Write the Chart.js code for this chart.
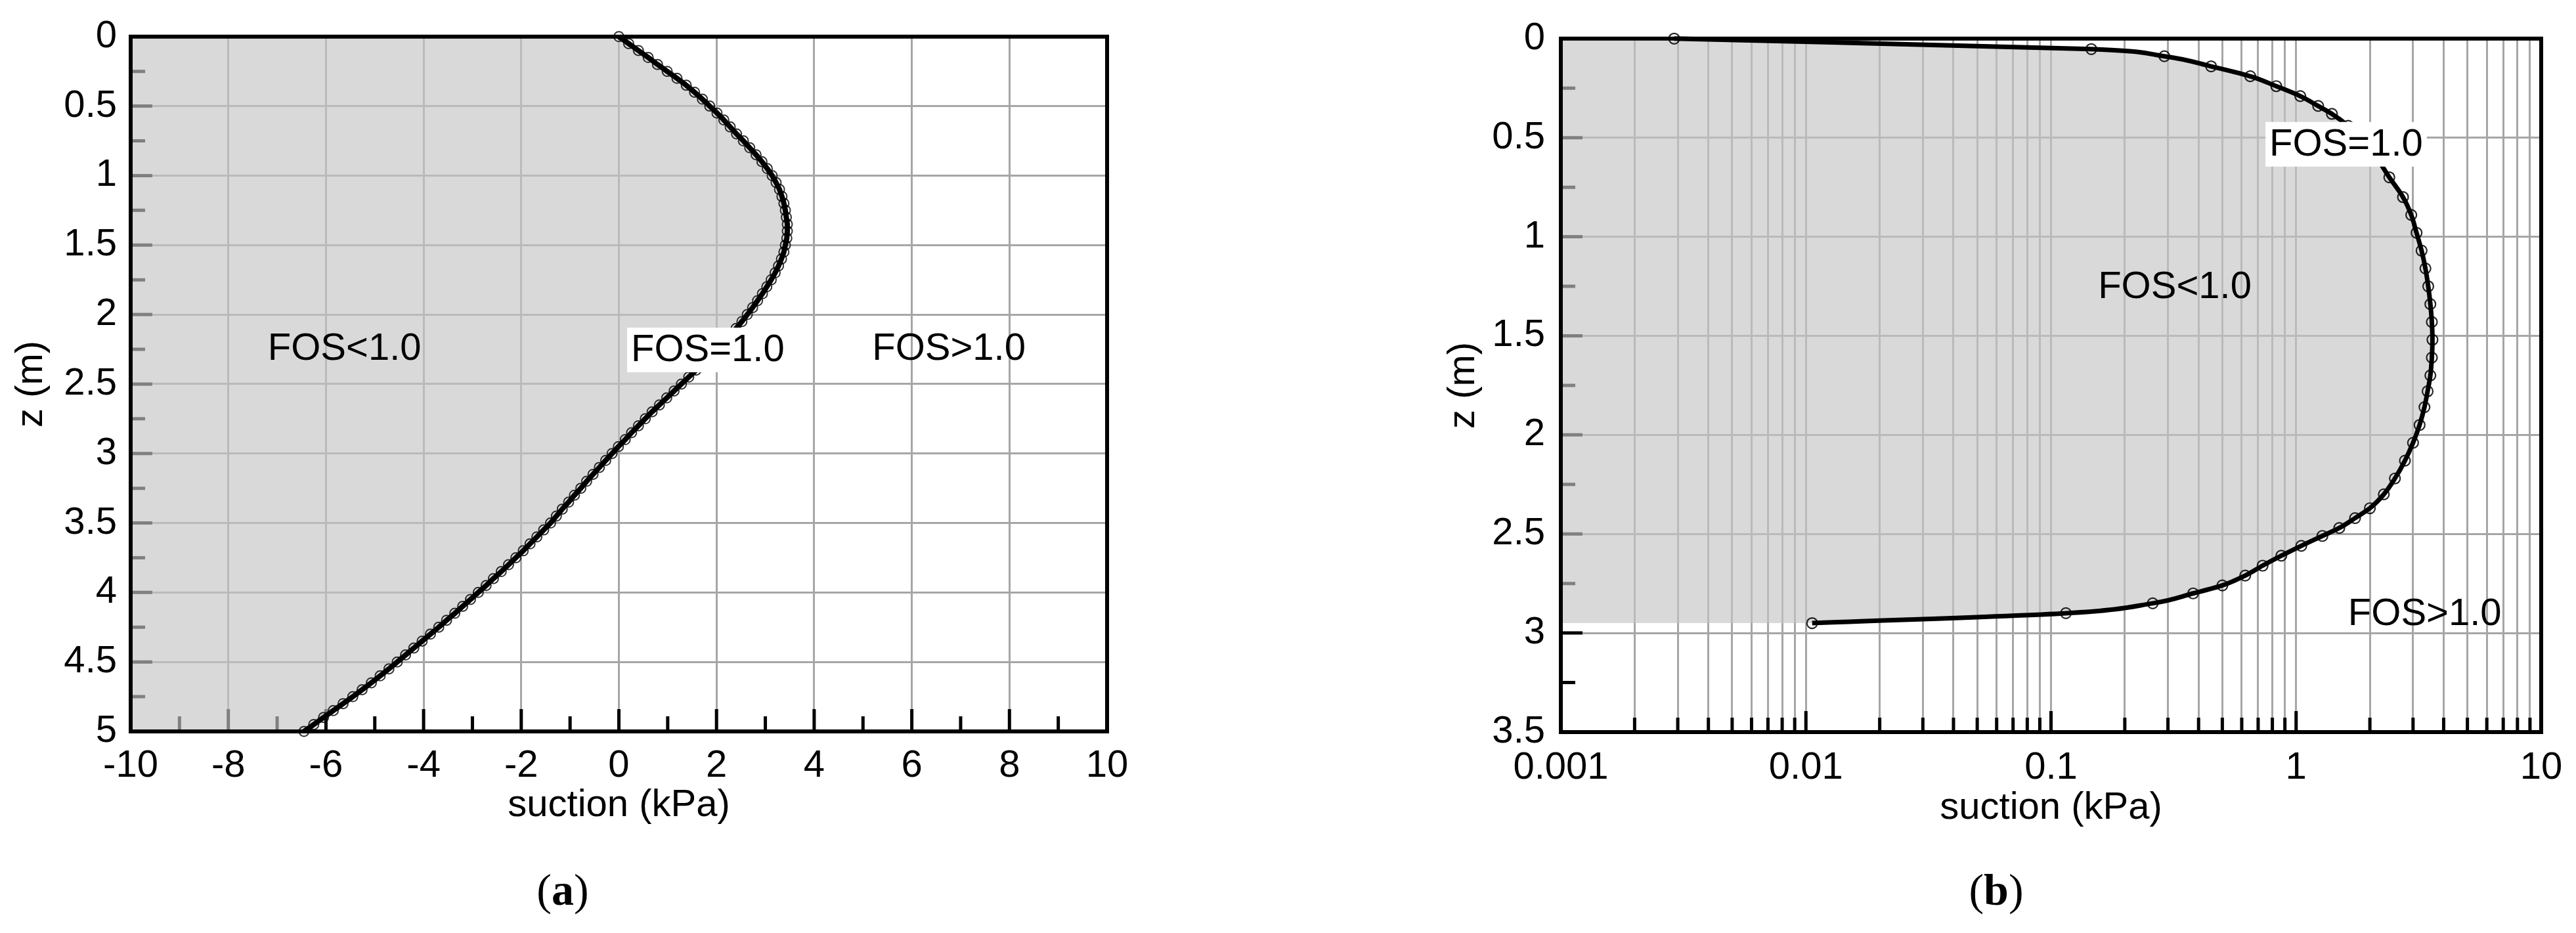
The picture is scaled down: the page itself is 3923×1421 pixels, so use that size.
<!DOCTYPE html>
<html lang="en">
<head>
    <meta charset="UTF-8">
    <title>Suction profiles</title>
    <script src="https://cdn.jsdelivr.net/npm/chart.js"></script>
    <style>
        html, body {
            margin: 0;
            padding: 0;
            background: #fff;
        }
        body {
            width: 3923px;
            height: 1421px;
            position: relative;
            overflow: hidden;
        }
        canvas {
            position: absolute;
            top: 0;
        }
        #chartA { left: 0; }
        #chartB { left: 2100px; }
        .caption {
            position: absolute;
            top: 1355px;
            transform: translate(-50%, -50%);
            font-family: 'Liberation Serif', 'Times New Roman', serif;
            font-size: 68px;
            color: #000;
        }
    </style>
</head>
<body>
    <canvas id="chartA" width="1800" height="1290"></canvas>
    <canvas id="chartB" width="1823" height="1290"></canvas>
    <div class="caption" style="left: 857px;">(<b>a</b>)</div>
    <div class="caption" style="left: 3040px;">(<b>b</b>)</div>

    <script>
        // (a) suction vs depth, linear axis
        const depthA = [
            0.00, 0.05, 0.10, 0.15, 0.20, 0.25, 0.30, 0.35, 0.40, 0.45,
            0.50, 0.55, 0.60, 0.65, 0.70, 0.75, 0.80, 0.85, 0.90, 0.95,
            1.00, 1.05, 1.10, 1.15, 1.20, 1.25, 1.30, 1.35, 1.40, 1.45,
            1.50, 1.55, 1.60, 1.65, 1.70, 1.75, 1.80, 1.85, 1.90, 1.95,
            2.00, 2.05, 2.10, 2.15, 2.20, 2.25, 2.30, 2.35, 2.40, 2.45,
            2.50, 2.55, 2.60, 2.65, 2.70, 2.75, 2.80, 2.85, 2.90, 2.95,
            3.00, 3.05, 3.10, 3.15, 3.20, 3.25, 3.30, 3.35, 3.40, 3.45,
            3.50, 3.55, 3.60, 3.65, 3.70, 3.75, 3.80, 3.85, 3.90, 3.95,
            4.00, 4.05, 4.10, 4.15, 4.20, 4.25, 4.30, 4.35, 4.40, 4.45,
            4.50, 4.55, 4.60, 4.65, 4.70, 4.75, 4.80, 4.85, 4.90, 4.95,
            5.00
        ];
        const suctionA = [
            0.00, 0.20, 0.40, 0.60, 0.79, 0.99, 1.19, 1.38, 1.55, 1.71,
            1.86, 2.01, 2.15, 2.28, 2.41, 2.55, 2.68, 2.81, 2.93, 3.04,
            3.14, 3.22, 3.29, 3.34, 3.38, 3.41, 3.43, 3.45, 3.45, 3.44,
            3.41, 3.38, 3.33, 3.27, 3.20, 3.12, 3.03, 2.94, 2.84, 2.74,
            2.63, 2.52, 2.40, 2.28, 2.15, 2.01, 1.87, 1.73, 1.58, 1.43,
            1.28, 1.13, 0.98, 0.83, 0.68, 0.54, 0.40, 0.26, 0.13, -0.01,
            -0.14, -0.27, -0.40, -0.53, -0.66, -0.78, -0.91, -1.03, -1.16, -1.28,
            -1.40, -1.54, -1.68, -1.82, -1.96, -2.11, -2.26, -2.41, -2.57, -2.72,
            -2.88, -3.04, -3.20, -3.36, -3.53, -3.69, -3.86, -4.03, -4.20, -4.37,
            -4.54, -4.71, -4.89, -5.07, -5.26, -5.45, -5.65, -5.85, -6.05, -6.25,
            -6.45
        ];

        // (b) suction vs depth, log axis
        const depthB = [
            0.00, 0.053, 0.089, 0.14, 0.19, 0.24, 0.29, 0.34, 0.38, 0.44,
            0.52, 0.60, 0.70, 0.80, 0.89, 0.98, 1.07, 1.16, 1.25, 1.34,
            1.43, 1.52, 1.61, 1.70, 1.78, 1.86, 1.95, 2.04, 2.13, 2.22,
            2.30, 2.37, 2.42, 2.47, 2.51, 2.56, 2.61, 2.66, 2.71, 2.76,
            2.80, 2.85, 2.90, 2.95
        ];
        const suctionB = [
            0.0029, 0.146, 0.29, 0.45, 0.65, 0.83, 1.04, 1.23, 1.40, 1.63,
            1.90, 2.13, 2.40, 2.73, 2.95, 3.10, 3.25, 3.37, 3.46, 3.53,
            3.58, 3.60, 3.58, 3.53, 3.44, 3.34, 3.19, 3.00, 2.78, 2.53,
            2.28, 2.00, 1.74, 1.50, 1.28, 1.05, 0.87, 0.73, 0.62, 0.50,
            0.38, 0.26, 0.115, 0.0106
        ];

        const decadesB = [0.001, 0.01, 0.1, 1, 10];
        const regionTextA = ['FOS<1.0', 'FOS=1.0', 'FOS>1.0'];
        const regionTextB = ['FOS<1.0', 'FOS=1.0', 'FOS>1.0'];

        const FONT = "'Liberation Sans', Arial, sans-serif";
        Chart.defaults.font.family = FONT;
        Chart.defaults.color = '#000';

        // every 1..9 x 10^n line of the log grid
        const logGridB = [];
        decadesB.slice(0, -1).forEach(d => {
            for (let m = 1; m < 10; m++) logGridB.push(+(m * d).toPrecision(3));
        });
        logGridB.push(10);

        const isDecade = v => Math.abs(Math.log10(v) - Math.round(Math.log10(v))) < 1e-6;

        // inward ticks under the fill, heavy frame and region labels on top
        const framePlugin = {
            id: 'frame',
            beforeDatasetsDraw(chart, args, opts) {
                const { ctx, chartArea: a, scales: { x, y } } = chart;
                ctx.save();
                ctx.strokeStyle = '#000';
                ctx.lineWidth = 5;
                ctx.beginPath();
                opts.xTicks.forEach(t => {
                    const px = x.getPixelForValue(t.v);
                    ctx.moveTo(px, a.bottom);
                    ctx.lineTo(px, a.bottom - t.len);
                });
                opts.yTicks.forEach(t => {
                    const py = y.getPixelForValue(t.v);
                    ctx.moveTo(a.left, py);
                    ctx.lineTo(a.left + t.len, py);
                });
                ctx.stroke();
                ctx.restore();
            },
            afterDatasetsDraw(chart, args, opts) {
                const { ctx, chartArea: a, scales: { x, y } } = chart;
                ctx.save();
                ctx.strokeStyle = '#000';
                ctx.lineWidth = 6;
                ctx.strokeRect(a.left, a.top, a.right - a.left, a.bottom - a.top);

                ctx.font = '58px ' + FONT;
                ctx.textAlign = 'center';
                ctx.textBaseline = 'middle';
                opts.labels.forEach(l => {
                    const px = x.getPixelForValue(l.x);
                    const py = y.getPixelForValue(l.z);
                    if (l.box) {
                        const w = ctx.measureText(l.text).width;
                        ctx.fillStyle = '#fff';
                        ctx.fillRect(px - w / 2 - 6, py - 33, w + 12, 68);
                    }
                    ctx.fillStyle = '#000';
                    ctx.fillText(l.text, px, py + 2);
                });
                ctx.restore();
            }
        };

        const tickFont = { size: 58, lineHeight: 1.2 };
        const titleFont = { size: 58, lineHeight: 1.2 };
        const gridStyle = { color: '#a6a6a6', lineWidth: 3, drawTicks: false };
        const fillColor = 'rgba(196, 196, 196, 0.65)';
        const depthLabel = v => String(+v.toFixed(2));

        const quarterTicks = max => {
            const out = [];
            for (let k = 1; k < max * 4; k++) out.push({ v: k / 4, len: k % 2 === 0 ? 33 : 22 });
            return out;
        };

        // ---- chart (a)
        const xTicksA = [];
        for (let v = -9; v <= 9; v++) xTicksA.push({ v, len: v % 2 === 0 ? 34 : 23 });

        new Chart(document.getElementById('chartA'), {
            type: 'line',
            data: {
                datasets: [{
                    data: depthA.map((z, i) => ({ x: suctionA[i], y: z })),
                    borderColor: '#000',
                    borderWidth: 8,
                    pointRadius: 7.5,
                    pointBorderWidth: 2,
                    pointBorderColor: 'rgba(0,0,0,0.8)',
                    pointBackgroundColor: 'rgba(0,0,0,0)',
                    backgroundColor: fillColor,
                    fill: { value: -10 },
                    tension: 0,
                    clip: false
                }]
            },
            options: {
                responsive: false,
                animation: false,
                indexAxis: 'y',
                layout: { padding: { top: 53, right: 114, bottom: 0, left: 0 } },
                plugins: {
                    legend: { display: false },
                    tooltip: { enabled: false },
                    frame: {
                        xTicks: xTicksA,
                        yTicks: quarterTicks(5),
                        labels: [
                            { text: regionTextA[0], x: -5.62, z: 2.24 },
                            { text: regionTextA[1], x: 1.82, z: 2.25, box: true },
                            { text: regionTextA[2], x: 6.76, z: 2.24 }
                        ]
                    }
                },
                scales: {
                    x: {
                        type: 'linear',
                        min: -10,
                        max: 10,
                        ticks: { stepSize: 2, padding: 18, font: tickFont, maxRotation: 0, callback: v => String(v) },
                        grid: gridStyle,
                        border: { display: false },
                        title: { display: true, text: 'suction (kPa)', font: titleFont, padding: { top: 0, bottom: 28 } },
                        afterFit: s => { s.height = 176; }
                    },
                    y: {
                        type: 'linear',
                        min: 0,
                        max: 5,
                        reverse: true,
                        ticks: { stepSize: 0.5, padding: 21, font: tickFont, callback: depthLabel },
                        grid: gridStyle,
                        border: { display: false },
                        title: { display: true, text: 'z (m)', font: titleFont, padding: { top: 13, bottom: 0 } },
                        afterFit: s => { s.width = 199; }
                    }
                }
            },
            plugins: [framePlugin]
        });

        // ---- chart (b)
        const xTicksB = logGridB.slice(1, -1).map(v => ({ v, len: isDecade(v) ? 32 : 22 }));

        new Chart(document.getElementById('chartB'), {
            type: 'line',
            data: {
                datasets: [{
                    data: depthB.map((z, i) => ({ x: suctionB[i], y: z })),
                    borderColor: '#000',
                    borderWidth: 7,
                    pointRadius: 8,
                    pointBorderWidth: 2.2,
                    pointBorderColor: 'rgba(0,0,0,0.85)',
                    pointBackgroundColor: 'rgba(0,0,0,0)',
                    backgroundColor: fillColor,
                    fill: { value: 0.001 },
                    cubicInterpolationMode: 'monotone',
                    clip: false
                }]
            },
            options: {
                responsive: false,
                animation: false,
                indexAxis: 'y',
                layout: { padding: { top: 50, right: 53, bottom: 0, left: 0 } },
                plugins: {
                    legend: { display: false },
                    tooltip: { enabled: false },
                    frame: {
                        xTicks: xTicksB,
                        yTicks: quarterTicks(3.5),
                        labels: [
                            { text: regionTextB[0], x: 0.32, z: 1.25 },
                            { text: regionTextB[1], x: 1.6, z: 0.53, box: true },
                            { text: regionTextB[2], x: 3.35, z: 2.9 }
                        ]
                    }
                },
                scales: {
                    x: {
                        type: 'logarithmic',
                        min: 0.001,
                        max: 10,
                        afterBuildTicks: s => { s.ticks = logGridB.map(v => ({ value: v })); },
                        ticks: {
                            autoSkip: false,
                            maxRotation: 0,
                            padding: 20,
                            font: tickFont,
                            callback: v => isDecade(v) ? String(decadesB.find(d => Math.abs(d - v) < d * 1e-6)) : ''
                        },
                        grid: gridStyle,
                        border: { display: false },
                        title: { display: true, text: 'suction (kPa)', font: titleFont, padding: { top: 0, bottom: 24 } },
                        afterFit: s => { s.height = 175; }
                    },
                    y: {
                        type: 'linear',
                        min: 0,
                        max: 3.5,
                        reverse: true,
                        ticks: { stepSize: 0.5, padding: 24, font: tickFont, callback: depthLabel },
                        grid: gridStyle,
                        border: { display: false },
                        title: { display: true, text: 'z (m)', font: titleFont, padding: { top: 94, bottom: 0 } },
                        afterFit: s => { s.width = 277; }
                    }
                }
            },
            plugins: [framePlugin]
        });
    </script>
</body>
</html>
